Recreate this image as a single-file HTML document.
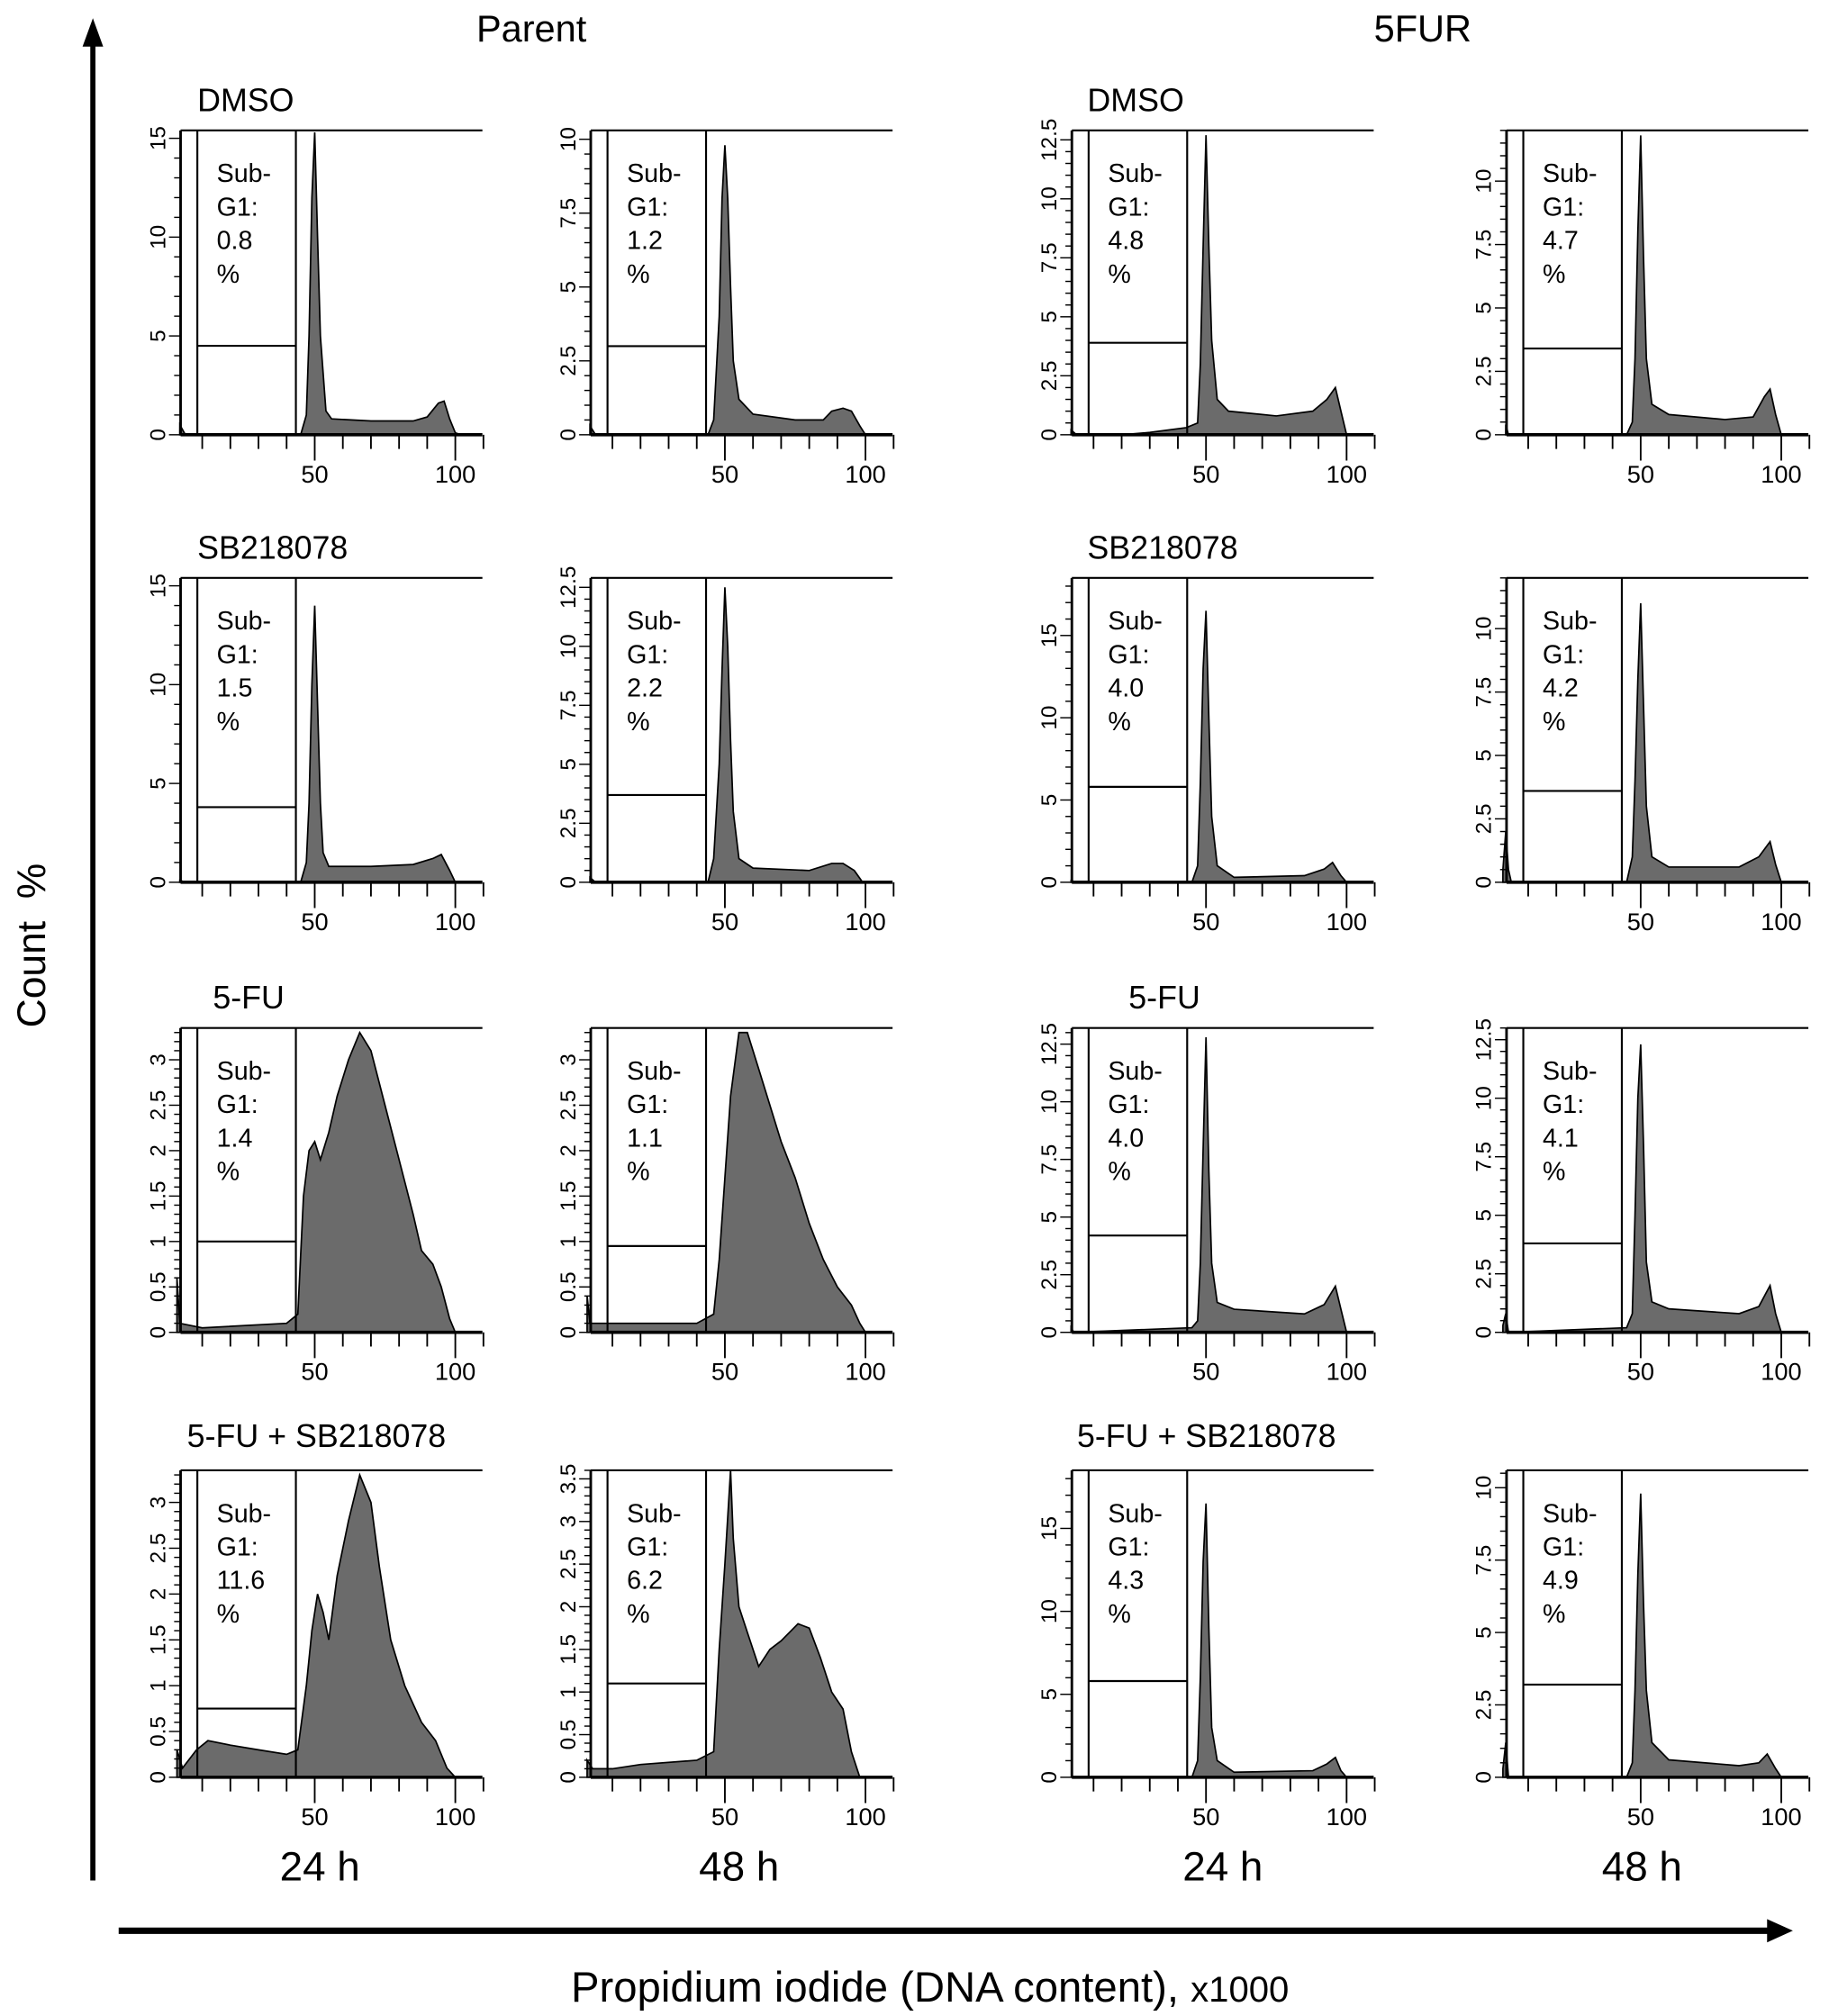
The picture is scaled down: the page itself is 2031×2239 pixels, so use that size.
<!DOCTYPE html>
<html><head><meta charset="utf-8"><style>
html,body{margin:0;padding:0;background:#fff;}
svg{display:block;font-family:"Liberation Sans",Arial,sans-serif;}
</style></head><body>
<svg id="fig" width="2031" height="2239" viewBox="0 0 1418 1563" xmlns="http://www.w3.org/2000/svg">
<text x="412" y="32" font-size="29" text-anchor="middle">Parent</text>
<text x="1103" y="32" font-size="29" text-anchor="middle">5FUR</text>
<g>
<line x1="72" y1="1458" x2="72" y2="34" stroke="#000" stroke-width="4"/>
<polygon points="64,36 80,36 72,14" fill="#000"/>
</g>
<text xml:space="preserve" transform="translate(35,733) rotate(-90)" font-size="31" text-anchor="middle">Count  %</text>
<g>
<line x1="92" y1="1497" x2="1372" y2="1497" stroke="#000" stroke-width="5"/>
<polygon points="1370,1488 1370,1506 1390,1497" fill="#000"/>
</g>
<text x="721" y="1552" font-size="33" text-anchor="middle">Propidium iodide (DNA content), <tspan font-size="28">x1000</tspan></text>
<g font-size="32" text-anchor="middle">
<text x="248" y="1458">24 h</text>
<text x="573" y="1458">48 h</text>
<text x="948" y="1458">24 h</text>
<text x="1273" y="1458">48 h</text>
</g>
<g font-size="25">
<text x="153" y="86">DMSO</text>
<text x="843" y="86">DMSO</text>
<text x="153" y="433">SB218078</text>
<text x="843" y="433">SB218078</text>
<text x="165" y="782">5-FU</text>
<text x="875" y="782">5-FU</text>
<text x="145" y="1122">5-FU + SB218078</text>
<text x="835" y="1122">5-FU + SB218078</text>
</g>
<g id="panels"></g>
</svg>
<script>
// panel grid
const colX = [140, 458, 831, 1168];
const rowTop = [101, 448, 797, 1140];
const rowBottom = [337, 684, 1033, 1378];
// per-panel data (order: row by row, col 1..4)
const subG1Values = ["0.8","1.2","4.8","4.7","1.5","2.2","4.0","4.2","1.4","1.1","4.0","4.1","11.6","6.2","4.3","4.9"];
const yMaxValues = [15.4,10.3,12.9,12.0,15.4,12.9,18.5,12.0,3.35,3.35,13.2,13.0,3.35,3.6,18.5,10.6];
const gateLevels = [4.5,3.0,3.9,3.4,3.8,3.7,5.8,3.6,1.0,0.95,4.2,3.8,0.75,1.1,5.8,3.2];
const tickStep = [5,2.5,2.5,2.5,5,2.5,5,2.5,0.5,0.5,2.5,2.5,0.5,0.5,5,2.5];
const h1 = [[2,0.5],[4,0],[45,0],[47,1],[48,5],[49,12],[50,15.3],[51,10],[52,5],[54,1.2],[56,0.8],[70,0.7],[85,0.7],[90,0.9],[94,1.6],[96,1.7],[98,0.8],[100,0.1],[102,0]];
const h2 = [[2,0.3],[4,0],[44,0],[46,0.5],[48,4],[49,8],[50,9.8],[51,8],[52,5],[53,2.5],[55,1.2],[60,0.7],[75,0.5],[85,0.5],[88,0.8],[92,0.9],[95,0.8],[98,0.3],[100,0]];
const h3 = [[2,0.2],[4,0],[20,0],[30,0.1],[43,0.3],[47,0.5],[48,3],[49,8],[50,12.7],[51,8],[52,4],[54,1.5],[58,1],[75,0.8],[88,1],[93,1.5],[96,2],[98,1],[100,0]];
const h4 = [[2,0.4],[3,0],[45,0],[47,0.5],[48,3],[49,8],[50,11.8],[51,7],[52,3],[54,1.2],[60,0.8],[80,0.6],[90,0.7],[94,1.5],[96,1.8],[98,0.8],[100,0]];
const h5 = [[2,0.1],[4,0],[45,0],[47,1],[48,4],[49,10],[50,14],[51,9],[52,4],[53,1.5],[55,0.8],[70,0.8],[85,0.9],[92,1.2],[95,1.4],[98,0.6],[100,0]];
const h6 = [[2,0.2],[4,0],[44,0],[46,1],[48,5],[49,9],[50,12.5],[51,10],[52,6],[53,3],[55,1],[60,0.6],[80,0.5],[88,0.8],[92,0.8],[96,0.5],[99,0]];
const h7 = [[2,0.1],[4,0],[45,0],[47,1],[48,6],[49,13],[50,16.5],[51,10],[52,4],[54,1],[60,0.3],[85,0.4],[92,0.8],[95,1.2],[98,0.4],[100,0]];
const h8 = [[1,0.5],[2,2],[3,0.5],[4,0],[45,0],[47,1],[48,4],[49,8],[50,11],[51,7],[52,3],[54,1],[60,0.6],[85,0.6],[92,1],[96,1.6],[98,0.7],[100,0]];
const h9 = [[1,0.6],[2,0.1],[10,0.05],[40,0.1],[44,0.2],[46,1.5],[48,2],[50,2.1],[52,1.9],[55,2.2],[58,2.6],[62,3],[66,3.3],[70,3.1],[75,2.5],[80,1.9],[85,1.3],[88,0.9],[92,0.75],[95,0.5],[98,0.15],[100,0]];
const h10 = [[1,0.4],[2,0.1],[40,0.1],[46,0.2],[48,0.8],[50,1.7],[52,2.6],[55,3.3],[58,3.3],[62,2.9],[66,2.5],[70,2.1],[75,1.7],[80,1.2],[85,0.8],[90,0.5],[95,0.3],[98,0.1],[100,0]];
const h11 = [[2,0.2],[3,0],[45,0.2],[47,0.5],[48,3],[49,8],[50,12.8],[51,7],[52,3],[54,1.3],[60,1],[85,0.8],[92,1.2],[96,2],[98,1],[100,0]];
const h12 = [[1,0.3],[2,0.8],[3,0],[45,0.2],[47,0.8],[48,5],[49,10],[50,12.3],[51,8],[52,3],[54,1.3],[60,1],[85,0.8],[92,1.1],[96,2],[98,0.8],[100,0]];
const h13 = [[1,0.3],[3,0.1],[8,0.3],[12,0.4],[20,0.35],[30,0.3],[40,0.25],[44,0.3],[47,1],[49,1.6],[51,2],[53,1.8],[55,1.5],[58,2.2],[62,2.8],[66,3.3],[70,3],[73,2.3],[77,1.5],[82,1],[88,0.6],[93,0.4],[97,0.1],[100,0]];
const h14 = [[1,0.2],[3,0.1],[10,0.1],[20,0.15],[40,0.2],[46,0.3],[48,1.5],[50,2.5],[52,3.6],[53,2.8],[55,2],[58,1.7],[62,1.3],[66,1.5],[70,1.6],[76,1.8],[80,1.75],[84,1.4],[88,1],[92,0.8],[95,0.3],[98,0]];
const h15 = [[2,0],[45,0],[47,1],[48,6],[49,13],[50,16.5],[51,9],[52,3],[54,1],[60,0.3],[88,0.4],[93,0.8],[96,1.2],[98,0.4],[100,0]];
const h16 = [[1,0.3],[2,1.2],[3,0],[45,0],[47,0.5],[48,3],[49,7],[50,9.8],[51,6],[52,3],[54,1.2],[60,0.6],[85,0.4],[92,0.5],[95,0.8],[98,0.3],[100,0]];
const histograms = [h1,h2,h3,h4,h5,h6,h7,h8,h9,h10,h11,h12,h13,h14,h15,h16];

const NS = "http://www.w3.org/2000/svg";
const root = document.getElementById("panels");
function mk(tag, attrs, parent){ const e=document.createElementNS(NS,tag); for(const k in attrs) e.setAttribute(k,attrs[k]); parent.appendChild(e); return e; }
const W = 234, PX = 2.18;
for(let i=0;i<16;i++){
  const r=Math.floor(i/4), c=i%4;
  const x0=colX[c], top=rowTop[r], bot=rowBottom[r];
  const xs = v => x0 - 5 + v*PX;
  const ys = v => bot - v/yMaxValues[i]*(bot-top);
  const g = mk("g",{},root);
  
  
  const pts = histograms[i];
  let d = "M"+xs(pts[0][0])+","+bot;
  pts.forEach(p=>{ d += " L"+xs(p[0]).toFixed(1)+","+Math.max(top,ys(p[1])).toFixed(1); });
  d += " L"+xs(pts[pts.length-1][0])+","+bot+" Z";
  const hp = mk("path",{d:d,fill:"#6b6b6b",stroke:"#000","stroke-width":1.2},g);
  
  
  mk("line",{x1:x0,y1:top,x2:x0+W,y2:top,stroke:"#000","stroke-width":1.5},g);
  mk("line",{x1:x0,y1:top,x2:x0,y2:bot,stroke:"#000","stroke-width":2},g);
  mk("line",{x1:x0,y1:bot,x2:x0+W,y2:bot,stroke:"#000","stroke-width":2.5},g);
  const gl=x0+13, gr=xs(43.3);
  const gate = mk("g",{},g);
  
  
  mk("line",{x1:gl,y1:top,x2:gl,y2:bot,stroke:"#000","stroke-width":1.5},gate);
  mk("line",{x1:gr,y1:top,x2:gr,y2:bot,stroke:"#000","stroke-width":1.5},gate);
  mk("line",{x1:gl,y1:ys(gateLevels[i]),x2:gr,y2:ys(gateLevels[i]),stroke:"#000","stroke-width":1.5},gate);
  const lines=["Sub-","G1:",subG1Values[i],"%"];
  lines.forEach((t,k)=>{ const tx=mk("text",{x:x0+28,y:top+40+k*26,"font-size":20},g); tx.textContent=t;
    
     });
  for(let v=10; v<=110; v+=10){
    const len = (v===50||v===100)?20:11;
    mk("line",{x1:xs(v),y1:bot,x2:xs(v),y2:bot+len,stroke:"#000","stroke-width":1.3},g);
  }
  [50,100].forEach(v=>{ const t=mk("text",{x:xs(v),y:bot+37,"font-size":19,"text-anchor":"middle"},g); t.textContent=v;
    
     });
  const st=tickStep[i], minor=st/5;
  for(let v=0; v<=yMaxValues[i]+1e-6; v+=minor){
    const isMaj = Math.abs(v/st - Math.round(v/st))<1e-6;
    mk("line",{x1:x0-(isMaj?9:5),y1:ys(v),x2:x0,y2:ys(v),stroke:"#000","stroke-width":1},g);
    if(isMaj){
      const lbl = (Math.round(v*10)/10).toString();
      const t=mk("text",{transform:"translate("+(x0-12)+","+ys(v)+") rotate(-90)","font-size":17,"text-anchor":"middle"},g);
      t.textContent=lbl;
      
      
    }
  }
}
</script>
</body></html>
